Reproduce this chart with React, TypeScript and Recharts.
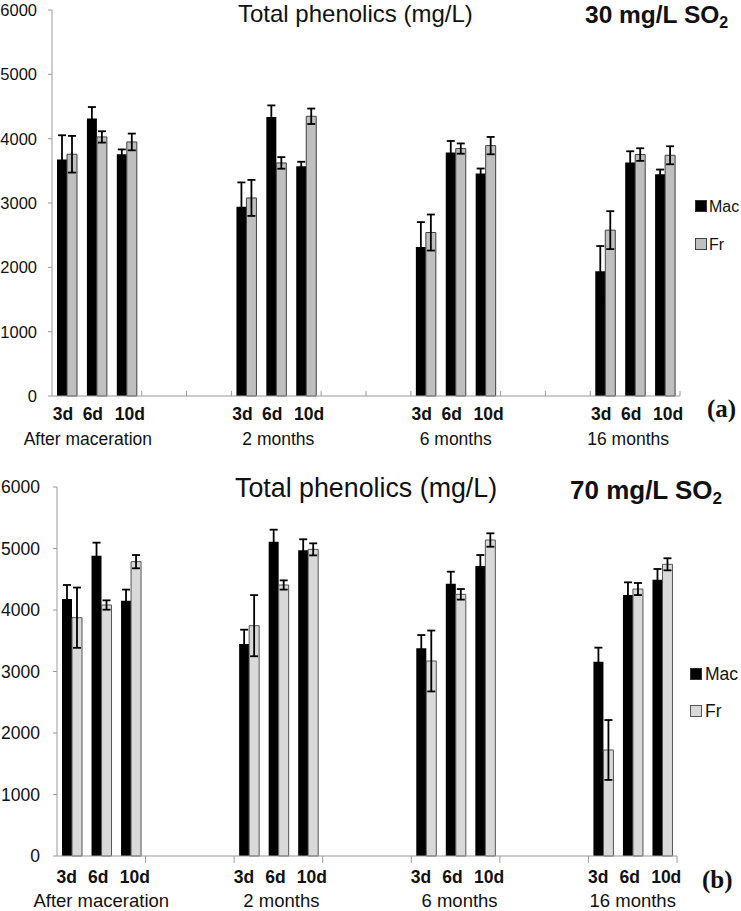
import React from 'react';
import { BarChart, Bar, XAxis, YAxis, ErrorBar } from 'recharts';

const stages = ['After maceration', '2 months', '6 months', '16 months'];
const days = ['3d', '6d', '10d'];
const yTicks = [0, 1000, 2000, 3000, 4000, 5000, 6000];

// (a) 30 mg/L SO2, order: stage x day
const macA = [3675, 4312, 3758, 2940, 4337, 3571, 2318, 3784, 3458, 1941, 3629, 3447];
const macAErr = [378, 180, 75, 380, 180, 70, 385, 180, 78, 390, 175, 73];
const frA = [3758, 4027, 3949, 3079, 3623, 4348, 2541, 3846, 3892, 2578, 3753, 3742];
const frAErr = [285, 88, 130, 280, 90, 120, 280, 80, 135, 295, 98, 140];

// (b) 70 mg/L SO2
const macB = [4179, 4883, 4152, 3447, 5111, 4970, 3377, 4428, 4715, 3160, 4244, 4491];
const macBErr = [228, 212, 180, 233, 195, 180, 216, 195, 179, 228, 206, 176];
const frB = [3875, 4081, 4786, 3745, 4407, 4986, 3171, 4255, 5138, 1724, 4341, 4743];
const frBErr = [490, 76, 108, 497, 75, 98, 495, 86, 109, 487, 98, 98];

const FONT = '"Liberation Sans", Arial, sans-serif';
const SERIF = '"Liberation Serif", "Times New Roman", serif';
const W = 741;

type Row = {
  key: string;
  day: string;
  dayIdx: number;
  stage: string;
  stageIdx: number;
  mac: number | null;
  macErr: number | null;
  fr: number | null;
  frErr: number | null;
};

// 3 bars per stage, then 3 empty slots as spacing (Excel-style)
function buildRows(mac: number[], macErr: number[], fr: number[], frErr: number[]): Row[] {
  const rows: Row[] = [];
  stages.forEach((stage, s) => {
    days.forEach((day, d) => {
      const i = s * 3 + d;
      rows.push({
        key: `${s}-${day}`, day, dayIdx: d, stage: d === 1 ? stage : '', stageIdx: s,
        mac: mac[i], macErr: macErr[i], fr: fr[i], frErr: frErr[i],
      });
    });
    if (s < stages.length - 1) {
      for (let k = 0; k < 3; k++) {
        rows.push({ key: `gap-${s}-${k}`, day: '', dayIdx: -1, stage: '', stageIdx: s, mac: null, macErr: null, fr: null, frErr: null });
      }
    }
  });
  return rows;
}

const rowsA = buildRows(macA, macAErr, frA, frAErr);
const rowsB = buildRows(macB, macBErr, frB, frBErr);

interface PanelProps {
  rows: Row[];
  top: number;
  height: number;
  margin: { top: number; right: number; bottom: number; left: number };
  yWidth: number;
  yTickMargin: number;
  yFontSize: number;
  frFill: string;
  frStroke: string;
  marks: number[];
  markLen: number;
  dayDy: number;
  dayShift: number[];
  stageDy: number;
  stageShift: number[];
  stageSize: number;
}

const Panel: React.FC<PanelProps> = ({
  rows, top, height, margin, yWidth, yTickMargin, yFontSize, frFill, frStroke, marks, markLen,
  dayDy, dayShift, stageDy, stageShift, stageSize,
}) => {
  const n = rows.length;
  const bw = (W - margin.left - yWidth - margin.right) / n;

  const renderTick = (props: any) => {
    const { x, y, payload } = props;
    const idx: number = props.index ?? payload.index;
    const row = rows[idx];
    const lines = marks
      .filter((p) => Math.min(Math.floor(p), n - 1) === idx)
      .map((p) => x + (p - idx - 0.5) * bw);
    return (
      <g>
        {lines.map((lx, k) => (
          <line key={k} x1={lx} x2={lx} y1={y} y2={y + markLen} stroke="#9a9a9a" strokeWidth={1} />
        ))}
        {row && row.day && (
          <text x={x + dayShift[row.dayIdx]} y={y + dayDy} textAnchor="middle" fontFamily={FONT} fontSize={17.5} fontWeight="bold" fill="#111">
            {row.day}
          </text>
        )}
        {row && row.stage && (
          <text x={x + stageShift[row.stageIdx]} y={y + stageDy} textAnchor="middle" fontFamily={FONT} fontSize={stageSize} fill="#111">
            {row.stage}
          </text>
        )}
      </g>
    );
  };

  return (
    <div style={{ position: 'absolute', left: 0, top }}>
      <BarChart width={W} height={height} data={rows} margin={margin} barSize={10} barGap={0}>
        <XAxis
          dataKey="key"
          interval={0}
          tickLine={false}
          tickSize={0}
          tickMargin={0}
          height={30}
          axisLine={{ stroke: '#9a9a9a' }}
          tick={renderTick}
        />
        <YAxis
          width={yWidth}
          domain={[0, 6000]}
          ticks={yTicks}
          interval={0}
          tickSize={4}
          tickMargin={yTickMargin}
          axisLine={{ stroke: '#9a9a9a' }}
          tickLine={{ stroke: '#9a9a9a' }}
          tick={{ fontFamily: FONT, fontSize: yFontSize, fill: '#111' }}
        />
        <Bar dataKey="mac" fill="#000000" isAnimationActive={false}>
          <ErrorBar dataKey="macErr" direction="y" width={4} stroke="#000" strokeWidth={1.8} />
        </Bar>
        <Bar dataKey="fr" fill={frFill} stroke={frStroke} strokeWidth={1} isAnimationActive={false}>
          <ErrorBar dataKey="frErr" direction="y" width={4} stroke="#000" strokeWidth={1.8} />
        </Bar>
      </BarChart>
    </div>
  );
};

const Overlay: React.FC = () => (
  <svg width={W} height={911} style={{ position: 'absolute', left: 0, top: 0, pointerEvents: 'none' }}>
    {/* panel (a) */}
    <text x={238} y={22} fontFamily={FONT} fontSize={24} fill="#111">Total phenolics (mg/L)</text>
    <text x={585} y={23} fontFamily={FONT} fontSize={24.5} fontWeight="bold" fill="#111">
      30 mg/L SO<tspan fontSize={16} dy={5}>2</tspan>
    </text>
    <rect x={695.5} y={200.5} width={11} height={11} fill="#000" stroke="#333" />
    <text x={709} y={212} fontFamily={FONT} fontSize={16} fill="#111">Mac</text>
    <rect x={695.5} y={238.5} width={11} height={11} fill="#bfbfbf" stroke="#404040" />
    <text x={709} y={250} fontFamily={FONT} fontSize={16} fill="#111">Fr</text>
    <text x={707} y={417} fontFamily={SERIF} fontSize={25} fontWeight="bold" fill="#111">(a)</text>

    {/* panel (b) */}
    <text x={235} y={497} fontFamily={FONT} fontSize={26.8} fill="#111">Total phenolics (mg/L)</text>
    <text x={570} y={499} fontFamily={FONT} fontSize={26} fontWeight="bold" fill="#111">
      70 mg/L SO<tspan fontSize={17} dy={5}>2</tspan>
    </text>
    <rect x={690.5} y={668.5} width={11} height={11} fill="#000" stroke="#333" />
    <text x={705} y={680} fontFamily={FONT} fontSize={17.5} fill="#111">Mac</text>
    <rect x={690.5} y={705.5} width={11} height={11} fill="#d9d9d9" stroke="#555" />
    <text x={705} y={717} fontFamily={FONT} fontSize={17.5} fill="#111">Fr</text>
    <text x={702} y={888} fontFamily={SERIF} fontSize={25} fontWeight="bold" fill="#111">(b)</text>
  </svg>
);

export default function App() {
  return (
    <div style={{ position: 'absolute', left: 0, top: 0, width: W, height: 911, background: '#fff' }}>
      <Panel
        rows={rowsA}
        top={0}
        height={455}
        margin={{ top: 10, right: 61, bottom: 29, left: 0 }}
        yWidth={52}
        yTickMargin={11}
        yFontSize={16.5}
        frFill="#bfbfbf"
        frStroke="#404040"
        marks={[3, 4.5, 6, 9, 10.5, 12, 15, 16.5, 18, 21]}
        markLen={-5}
        dayDy={24}
        dayShift={[-4, -4, 3]}
        stageDy={49}
        stageShift={[-9, 2, 0, -7]}
        stageSize={17.5}
      />
      <Panel
        rows={rowsB}
        top={455}
        height={456}
        margin={{ top: 32, right: 64, bottom: 25, left: 0 }}
        yWidth={57}
        yTickMargin={13}
        yFontSize={17.5}
        frFill="#d9d9d9"
        frStroke="#555555"
        marks={[3, 6, 9, 12, 15, 18, 21]}
        markLen={7}
        dayDy={27}
        dayShift={[-5, -3, 4]}
        stageDy={51}
        stageShift={[0, 3, 4, 0]}
        stageSize={18.5}
      />
      <Overlay />
    </div>
  );
}
